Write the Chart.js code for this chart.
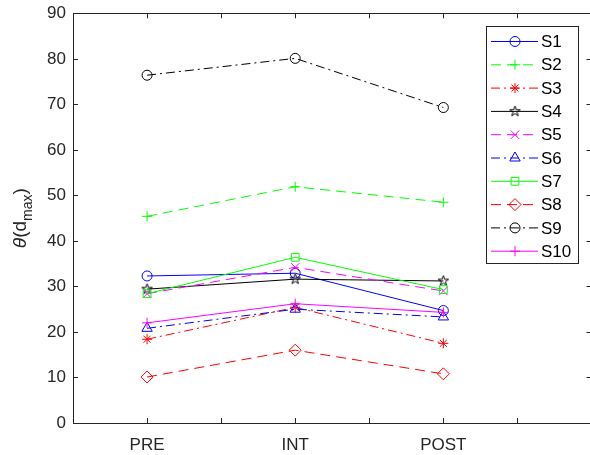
<!DOCTYPE html>
<html>
<head>
<meta charset="utf-8">
<script src="https://cdn.jsdelivr.net/npm/chart.js@4.4.0/dist/chart.umd.min.js"></script>
<style>
    html, body { margin: 0; padding: 0; background: #fff; overflow: hidden; }
    #wrap { width: 600px; height: 455px; }
</style>
</head>
<body>
<div id="wrap"><canvas id="myChart" width="600" height="455"></canvas></div>
<script>
// data
const categories = ['PRE', 'INT', 'POST'];
const seriesNames = ['S1', 'S2', 'S3', 'S4', 'S5', 'S6', 'S7', 'S8', 'S9', 'S10'];
const s1 = [32.3, 32.9, 24.7];
const s2 = [45.4, 51.9, 48.5];
const s3 = [18.4, 25.4, 17.5];
const s4 = [29.4, 31.6, 31.2];
const s5 = [28.4, 34.2, 29.0];
const s6 = [20.8, 25.0, 23.3];
const s7 = [28.4, 36.4, 29.3];
const s8 = [10.1, 16.0, 10.8];
const s9 = [76.4, 80.1, 69.3];
const s10 = [22.0, 26.2, 24.3];
const seriesValues = [s1, s2, s3, s4, s5, s6, s7, s8, s9, s10];
const yTicks = [0, 10, 20, 30, 40, 50, 60, 70, 80, 90];

const AXIS = '#262626';
const FONT = '"Liberation Sans", Arial, Helvetica, sans-serif';

// MATLAB style line specs
const SOLID = [], DASH = [10, 6], DASHDOT = [9, 4, 2, 4];

function makePentagram(color, r) {
    const c = document.createElement('canvas');
    const s = Math.ceil(2 * r + 4);
    c.width = c.height = s;
    const g = c.getContext('2d');
    g.strokeStyle = color;
    g.lineWidth = 1;
    g.beginPath();
    for (let k = 0; k < 10; k++) {
        const rr = k % 2 ? r * 0.382 : r;
        const a = -Math.PI / 2 + k * Math.PI / 5;
        g.lineTo(s / 2 + rr * Math.cos(a), s / 2 + rr * Math.sin(a));
    }
    g.closePath();
    g.stroke();
    return c;
}

const styles = [
    { color: '#0000ff', dash: SOLID,   marker: 'circle',   r: 5 },
    { color: '#00ff00', dash: DASH,    marker: 'cross',    r: 5 },
    { color: '#ff0000', dash: DASHDOT, marker: 'star',     r: 5 },
    { color: '#000000', dash: SOLID,   marker: makePentagram('#000000', 5.5), r: 5.5 },
    { color: '#ff00ff', dash: DASH,    marker: 'crossRot', r: 6 },
    { color: '#0000ff', dash: DASHDOT, marker: 'triangle', r: 6 },
    { color: '#00ff00', dash: SOLID,   marker: 'rect',     r: 5.5 },
    { color: '#ff0000', dash: DASH,    marker: 'rectRot',  r: 6 },
    { color: '#000000', dash: DASHDOT, marker: 'circle',   r: 5 },
    { color: '#ff00ff', dash: SOLID,   marker: 'cross',    r: 5 }
];

const datasets = seriesValues.map((vals, i) => ({
    label: seriesNames[i],
    data: vals.map((v, j) => ({ x: j + 1, y: v })),
    borderColor: styles[i].color,
    borderWidth: 1,
    borderDash: styles[i].dash,
    pointStyle: styles[i].marker,
    pointRadius: styles[i].r,
    pointHoverRadius: styles[i].r,
    pointBorderColor: styles[i].color,
    pointBackgroundColor: 'rgba(0,0,0,0)',
    pointBorderWidth: 1,
    fill: false,
    tension: 0,
    order: seriesNames.length - i
}));

// box around the axes, inward ticks on all four sides, y title and legend
const matlabAxes = {
    id: 'matlabAxes',
    afterDraw(chart) {
        const { ctx, chartArea: a, scales } = chart;
        ctx.save();
        ctx.strokeStyle = AXIS;
        ctx.lineWidth = 1;
        ctx.setLineDash([]);
        ctx.strokeRect(Math.round(a.left) + 0.5, Math.round(a.top) + 0.5,
            Math.round(a.right - a.left), Math.round(a.bottom - a.top));
        ctx.beginPath();
        scales.y.ticks.forEach(t => {
            const y = Math.round(scales.y.getPixelForValue(t.value)) + 0.5;
            ctx.moveTo(a.left, y); ctx.lineTo(a.left + 5, y);
            ctx.moveTo(a.right, y); ctx.lineTo(a.right - 5, y);
        });
        scales.x.ticks.forEach(t => {
            const x = Math.round(scales.x.getPixelForValue(t.value)) + 0.5;
            ctx.moveTo(x, a.bottom); ctx.lineTo(x, a.bottom - 5);
            ctx.moveTo(x, a.top); ctx.lineTo(x, a.top + 5);
        });
        ctx.stroke();

        // y axis title: theta(d_max)
        const parts = [
            { t: 'θ', f: 'italic 19px ' + FONT, dy: 0 },
            { t: '(d', f: '19px ' + FONT, dy: 0 },
            { t: 'max', f: '14px ' + FONT, dy: 6 },
            { t: ')', f: '19px ' + FONT, dy: 0 }
        ];
        let total = 0;
        parts.forEach(p => { ctx.font = p.f; p.w = ctx.measureText(p.t).width; total += p.w; });
        ctx.translate(26, (a.top + a.bottom) / 2);
        ctx.rotate(-Math.PI / 2);
        ctx.fillStyle = AXIS;
        ctx.textBaseline = 'alphabetic';
        ctx.textAlign = 'left';
        let px = -total / 2;
        parts.forEach(p => { ctx.font = p.f; ctx.fillText(p.t, px, p.dy); px += p.w; });
        ctx.restore();

        // legend box
        ctx.save();
        const lx = 486.5, ly = 26.5, lw = 92, lh = 237;
        ctx.fillStyle = '#ffffff';
        ctx.fillRect(lx, ly, lw, lh);
        ctx.strokeStyle = AXIS;
        ctx.lineWidth = 1;
        ctx.strokeRect(lx, ly, lw, lh);
        chart.data.datasets.forEach((ds, i) => {
            const y = 41.5 + i * 23.3;
            ctx.strokeStyle = ds.borderColor;
            ctx.lineWidth = 1;
            ctx.setLineDash(ds.borderDash);
            ctx.beginPath();
            ctx.moveTo(491, y); ctx.lineTo(538, y);
            ctx.stroke();
            ctx.setLineDash([]);
            ctx.fillStyle = 'rgba(0,0,0,0)';
            Chart.helpers.drawPoint(ctx, { pointStyle: ds.pointStyle, radius: ds.pointRadius, rotation: 0, borderWidth: 1 }, 515, y);
            ctx.fillStyle = '#000000';
            ctx.font = '17px ' + FONT;
            ctx.textBaseline = 'middle';
            ctx.textAlign = 'left';
            ctx.fillText(ds.label, 541, y + 1);
        });
        ctx.restore();
    }
};

new Chart(document.getElementById('myChart'), {
    type: 'line',
    data: { datasets },
    options: {
        responsive: false,
        animation: false,
        layout: { padding: { left: 0, top: 13.3, right: 8.5, bottom: 0 } },
        plugins: { legend: { display: false }, tooltip: { enabled: false } },
        scales: {
            x: {
                type: 'linear',
                min: 0.5,
                max: 4,
                grid: { display: false, drawTicks: false },
                border: { display: false },
                ticks: {
                    stepSize: 0.5,
                    autoSkip: false,
                    maxRotation: 0,
                    padding: 12,
                    color: AXIS,
                    font: { family: FONT, size: 17 },
                    callback: v => Number.isInteger(v) && categories[v - 1] ? categories[v - 1] : ''
                },
                afterFit: s => { s.height = 32; s.paddingLeft = 0; s.paddingRight = 0; }
            },
            y: {
                min: yTicks[0],
                max: yTicks[yTicks.length - 1],
                grid: { display: false, drawTicks: false },
                border: { display: false },
                ticks: {
                    stepSize: yTicks[1] - yTicks[0],
                    padding: 7,
                    color: AXIS,
                    font: { family: FONT, size: 17 }
                },
                afterFit: s => { s.width = 73; s.paddingTop = 0; s.paddingBottom = 0; }
            }
        }
    },
    plugins: [matlabAxes]
});
</script>
</body>
</html>
